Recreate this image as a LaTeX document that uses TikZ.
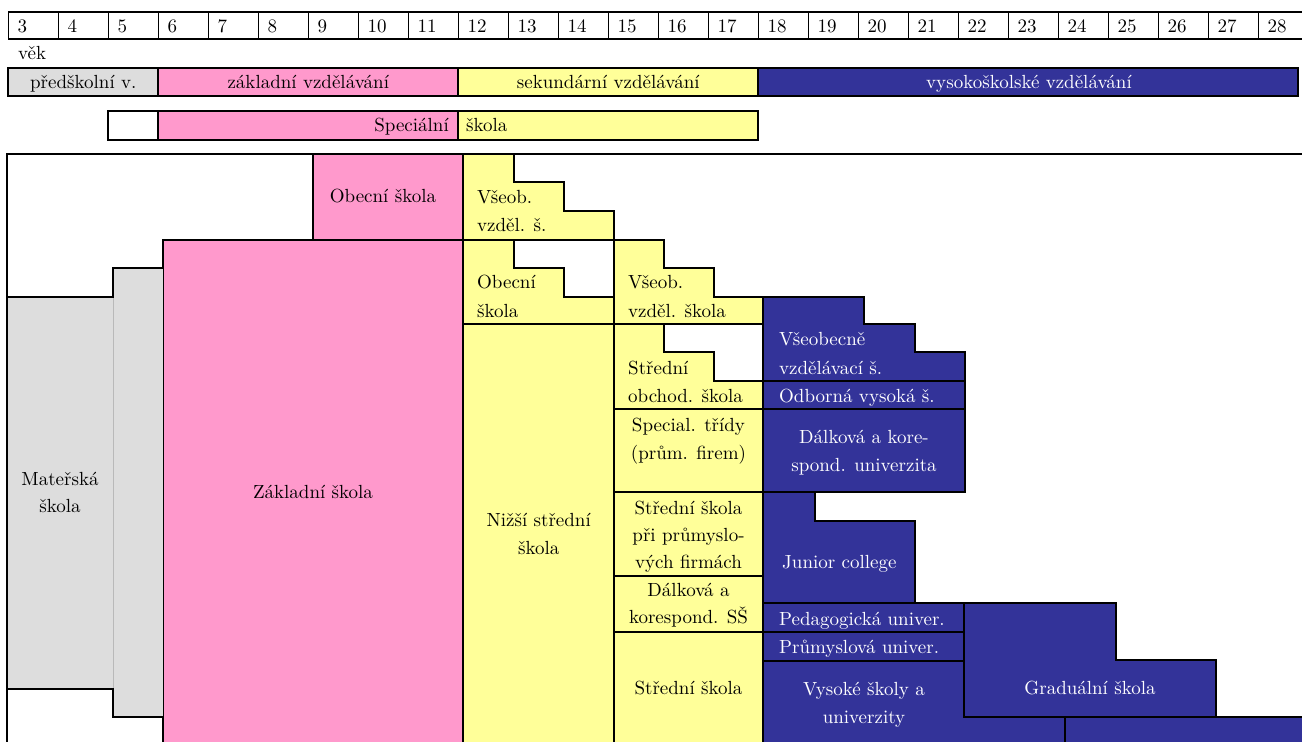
\documentclass[tikz,border=0pt]{standalone}
\usepackage{fontspec}
\setmainfont{lmroman10-regular.otf}
\definecolor{pk}{HTML}{FF99CC}
\definecolor{yl}{HTML}{FFFF99}
\definecolor{bl}{HTML}{333399}
\definecolor{gr}{HTML}{DDDDDD}
\tikzset{
  lbl/.style={font=\fontsize{19}{28}\selectfont, inner sep=0pt, text=black},
  wl/.style={lbl, text=white},
  cell/.style={draw=black, line width=1.6pt},
  bar/.style={draw=black, line width=1.9pt},
  yb/.style={fill=yl, draw=black, line width=1.6pt, line join=miter},
  bb/.style={fill=bl, draw=black, line width=1.6pt, line join=miter},
  edge/.style={draw=black, line width=2pt, line join=miter},
}
\begin{document}
\begin{tikzpicture}[x=1pt,y=-1pt]
\useasboundingbox (0,0) rectangle (1302,742);
\clip (0,0) rectangle (1302,742);
% ---- age row
\foreach \a [count=\i from 0] in {3,...,28} {
  \draw[cell] ({8.3+\i*50},12) rectangle ({58.3+\i*50},39);
  \node[lbl, anchor=base west] (age\a) at ({17.3+\i*50},32) {\a};
}
\node[lbl, anchor=base west] (vek) at (18,59) {věk};
% ---- level bar
\draw[bar, fill=gr] (8.3,68) rectangle (158.3,96);
\draw[bar, fill=pk] (158.3,68) rectangle (458.3,96);
\draw[bar, fill=yl] (458.3,68) rectangle (758.3,96);
\draw[bar, fill=bl] (758.3,68) rectangle (1298,96);
\node[lbl, anchor=base] (lv1) at (83.3,88) {předškolní v.};
\node[lbl, anchor=base] (lv2) at (308.3,88) {základní vzdělávání};
\node[lbl, anchor=base] (lv3) at (608.3,88) {sekundární vzdělávání};
\node[wl, anchor=base] (lv4) at (1029,88) {vysokoškolské vzdělávání};
% ---- special school bar
\draw[bar, fill=white] (108.3,111) rectangle (158.3,140);
\draw[bar, fill=pk] (158.3,111) rectangle (458.3,140);
\draw[bar, fill=yl] (458.3,111) rectangle (758.3,140);
\node[lbl, anchor=base east] (sp1) at (449,131) {Speciální};
\node[lbl, anchor=base west] (sp2) at (466,131) {škola};
% ---- main chart fills
\fill[gr] (7,297) rectangle (113,689);
\fill[gr] (113,268) rectangle (163,717);
\draw[gray!55, line width=0.8pt] (113,297) -- (113,689);
\fill[pk] (163,240) rectangle (463,750);
\fill[pk] (313,154) rectangle (463,240);
\draw[black, line width=0.9pt] (163,268) -- (163,717);
% yellow column 12-14
\draw[yb] (463,154) -- (514,154) -- (514,182) -- (564,182) -- (564,211) -- (614,211) -- (614,240) -- (463,240) -- cycle;
\draw[yb] (463,240) -- (514,240) -- (514,268) -- (564,268) -- (564,297) -- (614,297) -- (614,324) -- (463,324) -- cycle;
\draw[yb] (463,324) rectangle (614,750);
% yellow column 15-17
\draw[yb] (614,240) -- (664,240) -- (664,268) -- (714,268) -- (714,297) -- (763,297) -- (763,324) -- (614,324) -- cycle;
\draw[yb] (614,324) -- (664,324) -- (664,352) -- (714,352) -- (714,381) -- (763,381) -- (763,409) -- (614,409) -- cycle;
\draw[yb] (614,409) rectangle (763,492);
\draw[yb] (614,492) rectangle (763,576);
\draw[yb] (614,576) rectangle (763,632);
\draw[yb] (614,632) rectangle (763,750);
% blue column
\draw[bb] (763,297) -- (864,297) -- (864,324) -- (915,324) -- (915,352) -- (965,352) -- (965,381) -- (763,381) -- cycle;
\draw[bb] (763,381) rectangle (965,409);
\draw[bb] (763,409) rectangle (965,492);
\draw[bb] (763,492) -- (815,492) -- (815,521) -- (915,521) -- (915,603) -- (763,603) -- cycle;
\draw[bb] (763,603) rectangle (964,632);
\draw[bb] (763,632) rectangle (964,661);
\draw[bb] (763,661) -- (964,661) -- (964,717) -- (1065,717) -- (1065,750) -- (763,750) -- cycle;
\draw[bb] (964,603) -- (1116,603) -- (1116,660) -- (1216,660) -- (1216,717) -- (964,717) -- cycle;
\draw[bb] (1065,717) rectangle (1320,750);
% ---- outlines against white
\draw[edge] (7,297) -- (113,297) -- (113,268) -- (163,268) -- (163,240) -- (463,240);
\draw[edge] (313,240) -- (313,154);
\draw[edge] (7,689) -- (113,689) -- (113,717) -- (163,717) -- (163,750);
\draw[edge] (7,750) -- (7,154) -- (1310,154);
% ---- labels
\node[lbl, anchor=base] (obec1) at (383,202) {Obecní škola};
\node[lbl, anchor=base west] (vs1a) at (477,203) {Všeob.};
\node[lbl, anchor=base west] (vs1b) at (477,231) {vzděl. š.};
\node[lbl, anchor=base west] (ob2a) at (477,288) {Obecní};
\node[lbl, anchor=base west] (ob2b) at (477,317) {škola};
\node[lbl, anchor=base west] (vs2a) at (628,288) {Všeob.};
\node[lbl, anchor=base west] (vs2b) at (628,317) {vzděl. škola};
\node[lbl, anchor=base west] (soa) at (628,374) {Střední};
\node[lbl, anchor=base west] (sob) at (628,402) {obchod. škola};
\node[lbl, anchor=base] (spa) at (688.5,431) {Special. třídy};
\node[lbl, anchor=base] (spb) at (688.5,459) {(prům. firem)};
\node[lbl, anchor=base] (ssa) at (688.5,514) {Střední škola};
\node[lbl, anchor=base] (ssb) at (688.5,541) {při průmyslo-};
\node[lbl, anchor=base] (ssc) at (688.5,568) {vých firmách};
\node[lbl, anchor=base] (dka) at (688.5,596) {Dálková a};
\node[lbl, anchor=base] (dkb) at (688.5,623) {korespond. SŠ};
\node[lbl, anchor=base] (sts) at (688.5,694) {Střední škola};
\node[lbl, anchor=base] (nsa) at (538.7,526) {Nižší střední};
\node[lbl, anchor=base] (nsb) at (538.7,554) {škola};
\node[lbl, anchor=base] (zak) at (313,498) {Základní škola};
\node[lbl, anchor=base] (ma) at (60,485) {Mateřská};
\node[lbl, anchor=base] (mb) at (60,512) {škola};
\node[wl, anchor=base west] (vva) at (779,345) {Všeobecně};
\node[wl, anchor=base west] (vvb) at (779,374) {vzdělávací š.};
\node[wl, anchor=base west] (odb) at (779,402) {Odborná vysoká š.};
\node[wl, anchor=base] (dua) at (864,443) {Dálková a kore-};
\node[wl, anchor=base] (dub) at (864,471) {spond. univerzita};
\node[wl, anchor=base west] (jun) at (782,568) {Junior college};
\node[wl, anchor=base west] (ped) at (779,625) {Pedagogická univer.};
\node[wl, anchor=base west] (pru) at (779,653) {Průmyslová univer.};
\node[wl, anchor=base] (vsa) at (864,695) {Vysoké školy a};
\node[wl, anchor=base] (vsb) at (864,723) {univerzity};
\node[wl, anchor=base] (gra) at (1090,694) {Graduální škola};
\end{tikzpicture}
\end{document}
